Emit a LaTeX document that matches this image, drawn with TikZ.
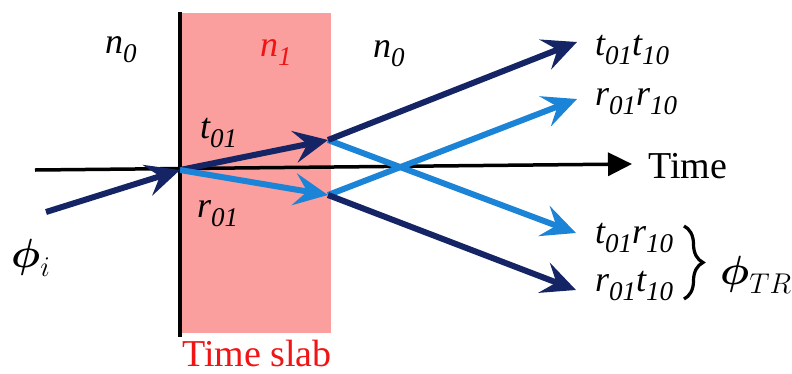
\RequirePackage{fix-cm}
\documentclass[tikz,border=0pt]{standalone}
\usepackage{amsmath}
\usepackage{fontspec}
\setmainfont{Liberation Serif}
\newfontfamily\tms{Liberation Serif}
\usetikzlibrary{arrows.meta,decorations.pathreplacing}
\definecolor{navy}{RGB}{20,36,100}
\definecolor{lblue}{RGB}{28,132,214}
\definecolor{slab}{RGB}{250,158,158}
\definecolor{slabred}{RGB}{240,20,20}
\newcommand{\ssb}[1]{\raisebox{-9pt}{\fontsize{27}{27}\selectfont #1}}
\begin{document}
\begin{tikzpicture}[x=1pt,y=-1pt,
  ray/.style={line width=6pt, -{Stealth[length=34pt,width=32pt,inset=13pt]}},
  dk/.style={ray, draw=navy, fill=navy},
  lt/.style={ray, draw=lblue, fill=lblue},
  lab/.style={font=\tms\fontsize{36}{36}\selectfont\itshape, inner sep=0pt, anchor=base west},
  big/.style={font=\tms\fontsize{38}{38}\selectfont, inner sep=0pt, anchor=base west},
  phi/.style={font=\fontsize{24}{24}\selectfont, inner sep=0pt, anchor=base west}]
\useasboundingbox (0,0) rectangle (792,373);
% slab
\fill[slab] (180,13) rectangle (331,333);
% axes
\coordinate (O) at (180,170);
\coordinate (vt) at (180,12);
\coordinate (vb) at (180,337);
\coordinate (ax0) at (35,170);
\coordinate (ax1) at (632,164);
\draw[line width=4pt] (vt) -- (vb);
\draw[line width=3.5pt, -{Triangle[length=24pt,width=23pt]}] (ax0) -- (ax1);
\node[big] (time) at (648,178) {Time};
% points
\coordinate (S) at (46,212);
\coordinate (A) at (328,140);
\coordinate (B) at (328,195);
\coordinate (E1) at (577,42);
\coordinate (E2) at (577,99);
\coordinate (E3) at (576,233);
\coordinate (E4) at (576,290);
% rays
\draw[dk] (S) -- (O);
\draw[dk] (O) -- (A);
\draw[lt] (O) -- (B);
\draw[lt] (A) -- (E3);
\draw[lt] (B) -- (E2);
\draw[dk] (A) -- (E1);
\draw[dk] (B) -- (E4);
% labels
\node[lab] (n0a) at (105,53) {n\ssb{0}};
\node[lab, text=slabred] (n1) at (260,56) {n\ssb{1}};
\node[lab] (n0b) at (373,57) {n\ssb{0}};
\node[lab] (t01) at (200,138) {t\ssb{01}};
\node[lab] (r01) at (197,217) {r\ssb{01}};
\node[phi] (phii) at (11,267) {\scalebox{1.7}{$\boldsymbol{\phi}_i$}};
\node[lab] (l1) at (595,55) {t\ssb{01}t\ssb{10}};
\node[lab] (l2) at (595,105) {r\ssb{01}r\ssb{10}};
\node[lab] (l3) at (595,243) {t\ssb{01}r\ssb{10}};
\node[lab] (l4) at (595,291) {r\ssb{01}t\ssb{10}};
\coordinate (b1) at (684,226);
\coordinate (b2) at (684,299);
\draw[line width=3.2pt, decorate, decoration={brace, amplitude=19pt}] (b1) -- (b2);
\node[phi] (phitr) at (720,284) {\scalebox{1.7}{$\boldsymbol{\phi}_{TR}$}};
\node[big, text=slabred] (slablbl) at (182,366) {Time slab};
\end{tikzpicture}
\end{document}
